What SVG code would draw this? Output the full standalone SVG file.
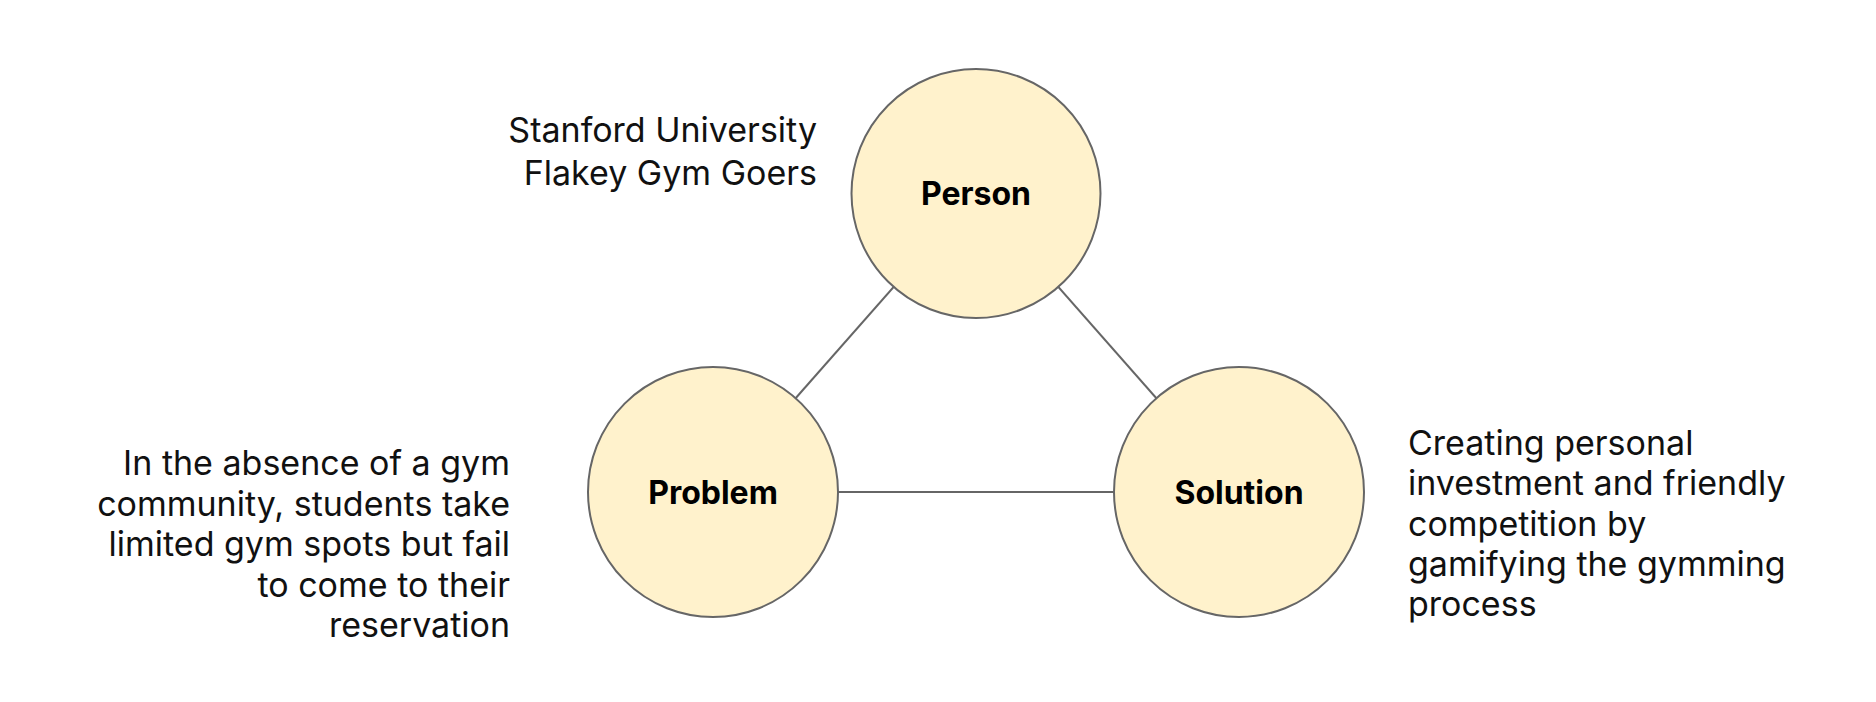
<svg xmlns="http://www.w3.org/2000/svg" width="1876" height="702" viewBox="0 0 1876 702">
<style>
.node{fill:#FFF2CC;stroke:#666666;stroke-width:2}
.edge{stroke:#666666;stroke-width:2;fill:none}
.lbl{font-family:Inter,"Liberation Sans",sans-serif;font-size:32px;font-weight:700;fill:#000;text-anchor:middle}
.txt{font-family:Inter,"Liberation Sans",sans-serif;font-size:34px;fill:#111}
</style>
<rect width="1876" height="702" fill="#ffffff"/>
<g id="connectors">
<line class="edge" x1="976" y1="193.5" x2="713" y2="492"/>
<line class="edge" x1="976" y1="193.5" x2="1239" y2="492"/>
<line class="edge" x1="713" y1="492" x2="1239" y2="492"/>
</g>
<g id="person">
<circle class="node" cx="976" cy="193.5" r="124.5"/>
<text class="lbl" x="976" y="205">Person</text>
</g>
<g id="problem">
<circle class="node" cx="713" cy="492" r="125"/>
<text class="lbl" x="713" y="503.5">Problem</text>
</g>
<g id="solution">
<circle class="node" cx="1239" cy="492" r="125"/>
<text class="lbl" x="1239" y="503.5">Solution</text>
</g>
<g id="person-text" class="txt" text-anchor="end">
<text x="817" y="142">Stanford University</text>
<text x="817" y="185">Flakey Gym Goers</text>
</g>
<g id="problem-text" class="txt" text-anchor="end">
<text x="510" y="475">In the absence of a gym</text>
<text x="510" y="515.5">community, students take</text>
<text x="510" y="556">limited gym spots but fail</text>
<text x="510" y="596.5">to come to their</text>
<text x="510" y="637">reservation</text>
</g>
<g id="solution-text" class="txt" text-anchor="start">
<text x="1408" y="455">Creating personal</text>
<text x="1408" y="495.3">investment and friendly</text>
<text x="1408" y="535.6">competition by</text>
<text x="1408" y="575.9">gamifying the gymming</text>
<text x="1408" y="616.2">process</text>
</g>
</svg>
